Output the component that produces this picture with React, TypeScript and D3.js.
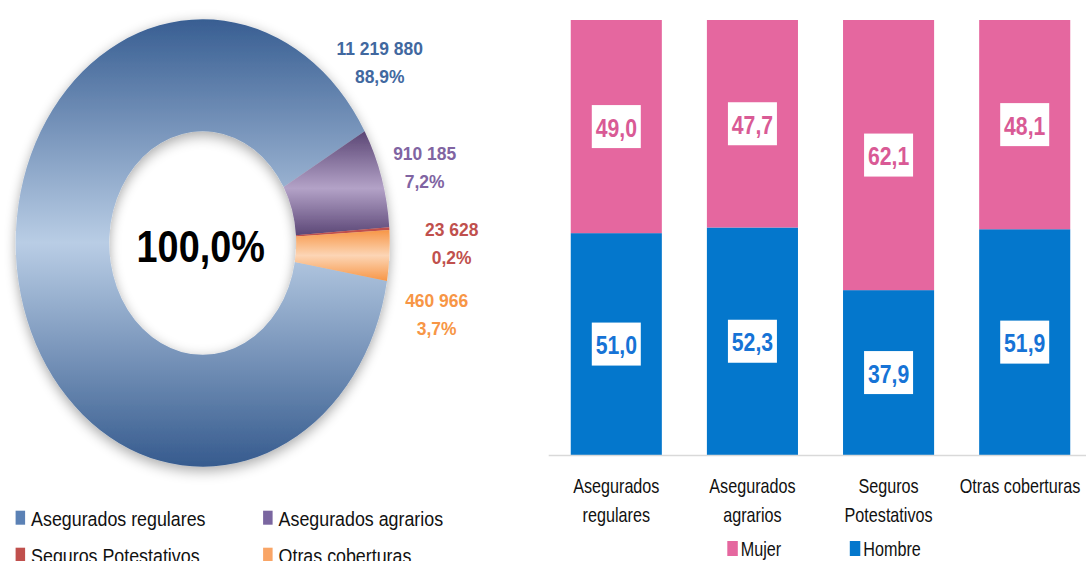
import React from "react";
import * as d3 from "d3";

// ---------- data ----------
const donutCategories = [
  "Asegurados regulares",
  "Asegurados agrarios",
  "Seguros Potestativos",
  "Otras coberturas",
];
const donutTotals = [11219880, 910185, 23628, 460966];
const centerLabel = "100,0%";

const barCategories = [
  "Asegurados regulares",
  "Asegurados agrarios",
  "Seguros Potestativos",
  "Otras coberturas",
];
const barTickLines = [
  ["Asegurados", "regulares"],
  ["Asegurados", "agrarios"],
  ["Seguros", "Potestativos"],
  ["Otras coberturas"],
];
const hombreValues = [51.0, 52.3, 37.9, 51.9];
const mujerValues = [49.0, 47.7, 62.1, 48.1];
const seriesNames = ["Mujer", "Hombre"];

// ---------- styles / layout ----------
const FONT = "'Liberation Sans', Arial, sans-serif";
const W = 1086;
const H = 561;

const donut = { cx: 202.7, cy: 243, rx: 187, ry: 223.7, inner: 0.5, startDeg: 99.8 };
const donutLabelColors = ["#41689f", "#8064a2", "#c0504d", "#f79646"];
const legendColors = ["#5b81b5", "#7a66a0", "#c0504d", "#f9a566"];
// label offsets (first line baseline) relative to the donut centre
const donutLabelOffsets = [
  [177, -188],
  [222, -83],
  [249, -7],
  [234, 64],
];

const barColors = { Mujer: "#e5679f", Hombre: "#0477cc" };
const barTextColors = { Mujer: "#d95a95", Hombre: "#1673d6" };
const plot = { left: 548.7, right: 1092.3, top: 20, bottom: 455 };

const locale = d3.formatLocale({ decimal: ",", thousands: " ", grouping: [3], currency: ["", ""] });
const fmtInt = locale.format(",d");
const fmtPct = locale.format(".1f");

// text squeezed horizontally (narrow, Calibri-like look)
function Txt({ x, y, sx = 1, children, ...rest }: any) {
  return (
    <text transform={`translate(${x},${y}) scale(${sx},1)`} {...rest}>
      {children}
    </text>
  );
}

export default function App() {
  // ----- donut -----
  const total = d3.sum(donutTotals);
  const start = (donut.startDeg * Math.PI) / 180;
  const pie = d3
    .pie<number>()
    .sort(null)
    .value((d) => d)
    .startAngle(start)
    .endAngle(start + 2 * Math.PI);
  const arcs = pie(donutTotals);
  const arc = d3
    .arc<d3.PieArcDatum<number>>()
    .innerRadius(donut.rx * donut.inner)
    .outerRadius(donut.rx);
  const sy = donut.ry / donut.rx;
  const sliceFills = ["url(#gReg)", "url(#gAgr)", "#c0504d", "url(#gOtr)"];

  // ----- bars -----
  const x = d3
    .scaleBand<string>()
    .domain(barCategories)
    .range([plot.left, plot.right])
    .paddingInner(0.331)
    .paddingOuter(0.162);
  const y = d3.scaleLinear().domain([0, 100]).range([plot.bottom, plot.top]);

  const rows = barCategories.map((c, i) => ({ cat: c, Hombre: hombreValues[i], Mujer: mujerValues[i] }));
  const stack = d3.stack<any>().keys(["Hombre", "Mujer"]);
  const layers = stack(rows);

  return (
    <svg
      width={W}
      height={H}
      style={{ position: "absolute", left: 0, top: 0, background: "#fff" }}
      fontFamily={FONT}
    >
      <defs>
        <linearGradient id="gReg" gradientUnits="userSpaceOnUse" x1={0} y1={-donut.rx} x2={0} y2={donut.rx}>
          <stop offset="0" stopColor="#385e92" />
          <stop offset="0.5" stopColor="#b9cde5" />
          <stop offset="1" stopColor="#365b8e" />
        </linearGradient>
        <linearGradient id="gAgr" x1="0" y1="0" x2="0" y2="1">
          <stop offset="0" stopColor="#5a4574" />
          <stop offset="0.55" stopColor="#b3a2c7" />
          <stop offset="1" stopColor="#5c4777" />
        </linearGradient>
        <linearGradient id="gOtr" x1="0" y1="0" x2="0" y2="1">
          <stop offset="0" stopColor="#f79646" />
          <stop offset="0.5" stopColor="#fcd5b5" />
          <stop offset="1" stopColor="#f79646" />
        </linearGradient>
        <filter id="shadow" x="-20%" y="-20%" width="140%" height="140%">
          <feGaussianBlur in="SourceAlpha" stdDeviation="6" />
          <feOffset dx="0" dy="3" result="blur" />
          <feComponentTransfer>
            <feFuncA type="linear" slope="0.35" />
          </feComponentTransfer>
          <feMerge>
            <feMergeNode />
            <feMergeNode in="SourceGraphic" />
          </feMerge>
        </filter>
      </defs>

      {/* donut */}
      <g transform={`translate(${donut.cx},${donut.cy}) scale(1,${sy})`} filter="url(#shadow)">
        {arcs.map((a, i) => (
          <path key={i} d={arc(a) || ""} fill={sliceFills[i]} />
        ))}
      </g>
      <Txt
        x={donut.cx - 2}
        y={donut.cy + 19}
        sx={0.86}
        textAnchor="middle"
        fontSize={44}
        fontWeight="bold"
        fill="#000"
      >
        {centerLabel}
      </Txt>

      {donutTotals.map((v, i) => {
        const [dx, dy] = donutLabelOffsets[i];
        return (
          <g key={i}>
            <Txt x={donut.cx + dx} y={donut.cy + dy} sx={0.97} textAnchor="middle" fontSize={18} fontWeight="bold" fill={donutLabelColors[i]}>
              {fmtInt(v)}
            </Txt>
            <Txt x={donut.cx + dx} y={donut.cy + dy + 28} sx={0.97} textAnchor="middle" fontSize={18} fontWeight="bold" fill={donutLabelColors[i]}>
              {fmtPct((v / total) * 100) + "%"}
            </Txt>
          </g>
        );
      })}

      {/* donut legend */}
      {donutCategories.map((c, i) => {
        const col = i % 2;
        const row = Math.floor(i / 2);
        const lx = 15.6 + col * 247.5;
        const ly = 517.7 + row * 37;
        return (
          <g key={c}>
            <rect x={lx} y={ly - 7} width={9.5} height={14} fill={legendColors[i]} />
            <Txt x={lx + 15.5} y={ly + 7.8} sx={0.87} fontSize={20.5} fill="#111">
              {c}
            </Txt>
          </g>
        );
      })}

      {/* stacked bars */}
      {layers.map((layer) => {
        const key = layer.key as "Hombre" | "Mujer";
        return (
          <g key={key}>
            {layer.map((d, i) => {
              const bx = x(barCategories[i]) as number;
              const bw = x.bandwidth();
              const y0 = y(d[0]);
              const y1 = y(d[1]);
              const mid = (y0 + y1) / 2;
              const val = d[1] - d[0];
              return (
                <g key={i}>
                  <rect x={bx} y={y1} width={bw} height={y0 - y1} fill={barColors[key]} />
                  <rect x={bx + bw / 2 - 24.5} y={mid - 21.5} width={49} height={43} fill="#fff" />
                  <Txt
                    x={bx + bw / 2}
                    y={mid + 10}
                    sx={0.8}
                    textAnchor="middle"
                    fontSize={26.5}
                    fontWeight="bold"
                    fill={barTextColors[key]}
                  >
                    {fmtPct(val)}
                  </Txt>
                </g>
              );
            })}
          </g>
        );
      })}

      {/* x axis */}
      <line x1={plot.left} x2={W} y1={plot.bottom + 0.5} y2={plot.bottom + 0.5} stroke="#d9d9d9" strokeWidth={1.5} />
      {barCategories.map((c, i) => {
        const cxBar = (x(c) as number) + x.bandwidth() / 2;
        return (
          <g key={c}>
            {barTickLines[i].map((ln, j) => (
              <Txt key={j} x={Math.min(cxBar, W - 66)} y={493 + j * 29} sx={0.83} textAnchor="middle" fontSize={19.5} fill="#111">
                {ln}
              </Txt>
            ))}
          </g>
        );
      })}

      {/* bar legend */}
      {seriesNames.map((s, i) => {
        const lx = 727.3 + i * 122.5;
        return (
          <g key={s}>
            <rect x={lx} y={541} width={10.5} height={15} fill={barColors[s as "Mujer" | "Hombre"]} />
            <Txt x={lx + 13.5} y={556} sx={0.83} fontSize={19.5} fill="#111">
              {s}
            </Txt>
          </g>
        );
      })}
    </svg>
  );
}
